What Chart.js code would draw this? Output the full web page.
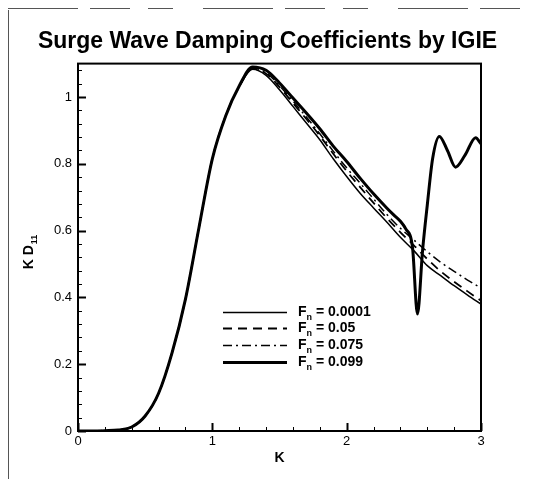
<!DOCTYPE html>
<html>
<head>
<meta charset="utf-8">
<script src="https://cdn.jsdelivr.net/npm/chart.js@4.4.1/dist/chart.umd.min.js"></script>
<style>
  html, body { margin: 0; padding: 0; background: #fff; }
  canvas { display: block; }
</style>
</head>
<body>
<canvas id="chart" width="535" height="479"></canvas>
<script>
const FONT = "'Liberation Sans', Arial, Helvetica, sans-serif";

// wave number K
const kGrid = [0, 0.1, 0.2, 0.3, 0.4, 0.5, 0.6, 0.7, 0.8, 0.9, 1.0, 1.1, 1.2, 1.3,
  1.4, 1.5, 1.6, 1.7, 1.8, 1.9, 2.0, 2.1, 2.2, 2.3, 2.4, 2.5, 2.6, 2.7, 2.8, 2.9, 3.0];

// K*D11 for each Froude number
const fn0001 = [0, 0, 0.001, 0.003, 0.012, 0.045, 0.113, 0.234, 0.395, 0.608, 0.815, 0.944, 1.031, 1.083,
  1.065, 1.022, 0.972, 0.922, 0.872, 0.815, 0.762, 0.712, 0.668, 0.625, 0.58, 0.54, 0.495, 0.465, 0.435, 0.407, 0.38];
const fn005 = [0, 0, 0.001, 0.003, 0.012, 0.045, 0.113, 0.234, 0.395, 0.608, 0.815, 0.944, 1.031, 1.085,
  1.07, 1.03, 0.982, 0.934, 0.884, 0.83, 0.778, 0.73, 0.683, 0.637, 0.595, 0.556, 0.515, 0.478, 0.447, 0.418, 0.39];
const fn0075 = [0, 0, 0.001, 0.003, 0.012, 0.045, 0.113, 0.234, 0.395, 0.608, 0.815, 0.944, 1.031, 1.086,
  1.073, 1.034, 0.988, 0.94, 0.89, 0.838, 0.788, 0.742, 0.695, 0.648, 0.607, 0.572, 0.537, 0.505, 0.478, 0.452, 0.428];

// Fn = 0.099 has the irregular-frequency spikes, so it needs its own K points
const kFn0099 = [0, 0.1, 0.2, 0.3, 0.4, 0.5, 0.6, 0.7, 0.8, 0.9, 1.0, 1.1, 1.2, 1.3,
  1.4, 1.5, 1.6, 1.7, 1.8, 1.9, 2.0, 2.1, 2.2, 2.3, 2.35, 2.4, 2.44, 2.49, 2.527, 2.565,
  2.6, 2.64, 2.69, 2.75, 2.81, 2.88, 2.96, 3.0];
const fn0099 = [0, 0, 0.001, 0.003, 0.012, 0.045, 0.113, 0.234, 0.395, 0.608, 0.815, 0.944, 1.033, 1.09,
  1.08, 1.042, 0.997, 0.952, 0.905, 0.853, 0.807, 0.757, 0.71, 0.667, 0.647, 0.628, 0.605, 0.55, 0.35, 0.54,
  0.676, 0.816, 0.882, 0.84, 0.79, 0.825, 0.878, 0.86];

const fnLabels = ['0.0001', '0.05', '0.075', '0.099'];

const xTicks = [0, 1, 2, 3];
const yTicks = [0, 0.2, 0.4, 0.6, 0.8, 1];

const toPoints = (ks, vs) => ks.map((k, i) => ({ x: k, y: vs[i] }));

const frame = {
  id: 'frame',
  beforeDraw(chart) {
    const { ctx } = chart;
    ctx.save();
    ctx.strokeStyle = '#555';
    ctx.lineWidth = 1;
    ctx.beginPath();
    ctx.moveTo(8.5, 10);
    ctx.lineTo(8.5, 479);
    ctx.stroke();
    ctx.setLineDash([70, 12, 40, 18, 25, 30]);
    ctx.beginPath();
    ctx.moveTo(8, 8.5);
    ctx.lineTo(535, 8.5);
    ctx.stroke();
    ctx.restore();
  }
};

const axesBox = {
  id: 'axesBox',
  afterDatasetsDraw(chart) {
    const { ctx, chartArea: a, scales } = chart;
    ctx.save();
    ctx.strokeStyle = '#000';
    ctx.lineWidth = 2;
    ctx.strokeRect(a.left, a.top, a.right - a.left, a.bottom - a.top);
    // inward tick marks
    for (let i = 0; i <= 15; i++) {
      const v = i * 0.2;
      const px = Math.round(scales.x.getPixelForValue(v)) + 0.5;
      const major = i % 5 === 0;
      ctx.lineWidth = major ? 2 : 1;
      ctx.beginPath();
      ctx.moveTo(px, a.bottom);
      ctx.lineTo(px, a.bottom - (major ? 8 : 4));
      ctx.stroke();
    }
    for (let i = 0; i <= 27; i++) {
      const v = i * 0.04;
      const py = Math.round(scales.y.getPixelForValue(v)) + 0.5;
      const major = i % 5 === 0;
      ctx.lineWidth = major ? 2 : 1;
      ctx.beginPath();
      ctx.moveTo(a.left, py);
      ctx.lineTo(a.left + (major ? 8 : 4), py);
      ctx.stroke();
    }
    ctx.restore();
  }
};

const yTitle = {
  id: 'yTitle',
  afterDraw(chart) {
    const { ctx } = chart;
    ctx.save();
    ctx.translate(23, 252);
    ctx.rotate(-Math.PI / 2);
    ctx.fillStyle = '#000';
    ctx.textAlign = 'left';
    ctx.textBaseline = 'alphabetic';
    ctx.font = 'bold 14px ' + FONT;
    const w1 = ctx.measureText('K D').width;
    ctx.font = 'bold 9px ' + FONT;
    const w2 = ctx.measureText('11').width;
    const x0 = -(w1 + w2 + 1) / 2;
    ctx.font = 'bold 14px ' + FONT;
    ctx.fillText('K D', x0, 10);
    ctx.font = 'bold 9px ' + FONT;
    ctx.fillText('11', x0 + w1 + 1, 14);
    ctx.restore();
  }
};

const legendBox = {
  id: 'legendBox',
  afterDraw(chart) {
    const { ctx } = chart;
    const rows = [312, 328, 345, 362];
    ctx.save();
    chart.data.datasets.forEach((ds, i) => {
      const y = rows[i] + 0.5;
      ctx.strokeStyle = '#000';
      ctx.lineWidth = ds.borderWidth;
      ctx.setLineDash(ds.borderDash || []);
      ctx.beginPath();
      ctx.moveTo(223, y);
      ctx.lineTo(287, y);
      ctx.stroke();
      ctx.setLineDash([]);
      ctx.fillStyle = '#000';
      ctx.textBaseline = 'middle';
      ctx.font = 'bold 14px ' + FONT;
      ctx.fillText('F', 298, y);
      const wF = ctx.measureText('F').width;
      ctx.font = 'bold 9px ' + FONT;
      ctx.fillText('n', 298 + wF, y + 5);
      const wn = ctx.measureText('n').width;
      ctx.font = 'bold 14px ' + FONT;
      ctx.fillText(' = ' + fnLabels[i], 298 + wF + wn, y);
    });
    ctx.restore();
  }
};

Chart.defaults.font.family = FONT;
Chart.defaults.color = '#000';

new Chart(document.getElementById('chart'), {
  type: 'line',
  data: {
    datasets: [
      { label: 'Fn = 0.0001', data: toPoints(kGrid, fn0001), borderColor: '#000', borderWidth: 1.5 },
      { label: 'Fn = 0.05', data: toPoints(kGrid, fn005), borderColor: '#000', borderWidth: 1.8, borderDash: [9, 6] },
      { label: 'Fn = 0.075', data: toPoints(kGrid, fn0075), borderColor: '#000', borderWidth: 1.5, borderDash: [9, 4, 2, 4] },
      { label: 'Fn = 0.099', data: toPoints(kFn0099, fn0099), borderColor: '#000', borderWidth: 3 }
    ]
  },
  options: {
    responsive: false,
    animation: false,
    events: [],
    layout: { padding: 0 },
    elements: {
      point: { radius: 0 },
      line: { cubicInterpolationMode: 'monotone', fill: false }
    },
    plugins: {
      legend: { display: false },
      tooltip: { enabled: false },
      title: {
        display: true,
        text: 'Surge Wave Damping Coefficients by IGIE',
        font: { size: 23, weight: 'bold' },
        color: '#000',
        padding: { top: 28, bottom: 8 }
      }
    },
    scales: {
      x: {
        type: 'linear',
        min: 0,
        max: 3,
        afterBuildTicks: s => { s.ticks = xTicks.map(v => ({ value: v })); },
        afterFit: s => { s.height = 48; },
        ticks: { font: { size: 13 }, color: '#000', padding: 3, callback: v => String(v) },
        grid: { drawOnChartArea: false, drawTicks: false },
        border: { display: false },
        title: { display: true, text: 'K', font: { size: 14, weight: 'bold' }, color: '#000', padding: { top: 0, bottom: 12 } }
      },
      y: {
        type: 'linear',
        min: 0,
        max: 1.1,
        afterBuildTicks: s => { s.ticks = yTicks.map(v => ({ value: v })); },
        afterFit: s => { s.width = 78; },
        ticks: { font: { size: 13 }, color: '#000', padding: 6, callback: v => String(Math.round(v * 10) / 10) },
        grid: { drawOnChartArea: false, drawTicks: false },
        border: { display: false }
      },
      yRight: {
        type: 'linear',
        position: 'right',
        afterFit: s => { s.width = 54; },
        ticks: { display: false },
        grid: { display: false },
        border: { display: false }
      }
    }
  },
  plugins: [frame, axesBox, yTitle, legendBox]
});
</script>
</body>
</html>
